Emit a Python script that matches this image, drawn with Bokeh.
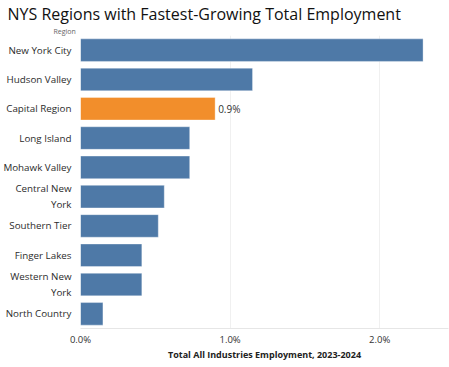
from bokeh.plotting import figure
from bokeh.models import ColumnDataSource, FixedTicker, PrintfTickFormatter, Title, Range1d
from bokeh.embed import file_html
from bokeh.resources import INLINE

regions = ["New York City", "Hudson Valley", "Capital Region", "Long Island", "Mohawk Valley",
           "Central New\nYork", "Southern Tier", "Finger Lakes", "Western New\nYork", "North Country"]
growth = [2.29, 1.15, 0.90, 0.73, 0.73, 0.56, 0.52, 0.41, 0.41, 0.15]
highlight = "Capital Region"
x_ticks = [0, 1, 2]

FONT = "Open Sans"
BLUE = "#4e79a7"
ORANGE = "#f28e2b"

colors = [ORANGE if r == highlight else BLUE for r in regions]
src = ColumnDataSource(dict(region=regions, growth=growth, color=colors))

p = figure(y_range=list(reversed(regions)), x_range=Range1d(0, 2.46),
           frame_width=368, frame_height=293,
           min_border_left=72, min_border_right=1, min_border_bottom=26, min_border_top=28,
           output_backend="svg", toolbar_location=None)

p.hbar(y="region", right="growth", height=0.77, fill_color="color", line_color="#ffffff",
       line_alpha=0.35, line_width=1, source=src)

hl = ColumnDataSource(dict(region=[highlight], growth=[growth[regions.index(highlight)]],
                           label=["%.1f%%" % growth[regions.index(highlight)]]))
p.text(x="growth", y="region", text="label", source=hl, x_offset=3, text_baseline="middle",
       text_align="left", text_font_size="10px", text_color="#333333",
       text_font={"value": FONT})

p.title.text = "NYS Regions with Fastest-Growing Total Employment"
p.title.text_font = FONT
p.title.text_font_size = "16px"
p.title.text_font_style = "normal"
p.title.text_color = "#111111"
p.title.align = "left"
p.title.offset = -73
p.title.standoff = 0

p.add_layout(Title(text="Region", align="left", offset=-27, standoff=0,
                   text_font=FONT, text_font_size="7px", text_font_style="normal",
                   text_color="#666666"), "above")

p.xaxis.ticker = FixedTicker(ticks=x_ticks)
p.xaxis.formatter = PrintfTickFormatter(format="%.1f%%")
p.xaxis.axis_label = "Total All Industries Employment, 2023-2024"
p.xaxis.axis_label_text_font = FONT
p.xaxis.axis_label_text_font_style = "bold"
p.xaxis.axis_label_text_font_size = "9px"
p.xaxis.axis_label_text_color = "#222222"
p.xaxis.axis_label_standoff = -1
p.xaxis.major_label_text_font = FONT
p.xaxis.major_label_text_font_size = "9.5px"
p.xaxis.major_label_text_color = "#333333"
p.xaxis.major_tick_line_color = None
p.xaxis.minor_tick_line_color = None
p.xaxis.axis_line_color = "#e6e6e6"
p.xaxis.major_label_standoff = -2

p.yaxis.major_label_text_font = FONT
p.yaxis.major_label_text_font_size = "9.8px"
p.yaxis.major_label_text_color = "#2b2b2b"
p.yaxis.major_tick_line_color = None
p.yaxis.minor_tick_line_color = None
p.yaxis.axis_line_color = None
p.yaxis.major_label_standoff = 3

p.ygrid.grid_line_color = None
p.xgrid.grid_line_color = "#f0f0f0"
p.outline_line_color = None

open("out.html", "w").write(file_html(p, INLINE))
